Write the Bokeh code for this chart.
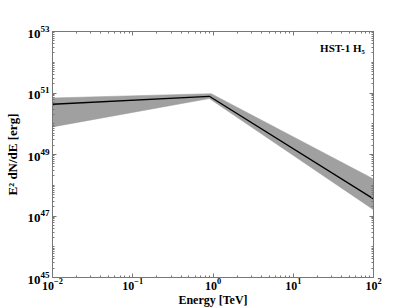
import numpy as np
from bokeh.plotting import figure
from bokeh.models import LogAxis, FixedTicker, Label, CustomJSTickFormatter
from bokeh.embed import file_html
from bokeh.resources import INLINE

# --- data ---
line_energy = [0.01, 0.9, 100.0]
line_flux = [4.3e50, 7.8e50, 3.6e47]
upper_energy = [0.01, 0.95, 100.0]
upper_flux = [6.9e50, 9.5e50, 1.6e48]
lower_energy = [0.01, 0.9, 100.0]
lower_flux = [7.9e49, 6.6e50, 1.6e47]
x_major = [1e-2, 1e-1, 1e0, 1e1, 1e2]
y_major = [1e45, 1e47, 1e49, 1e51, 1e53]
source_label = "HST-1 H\u2085"

FONT = "Liberation Serif"

x_minor = [m * 10.0 ** e for e in range(-2, 2) for m in range(1, 10)] + [1e2]
y_minor = [m * 10.0 ** e for e in range(45, 53) for m in range(1, 10)] + [1e53]

p = figure(x_axis_type="log", y_axis_type="log",
           x_range=(1e-2, 1e2), y_range=(1e45, 1e53),
           frame_width=321, frame_height=246,
           min_border_left=52, min_border_top=31, min_border_right=34, min_border_bottom=5,
           output_backend="svg", toolbar_location=None)
p.grid.visible = False
p.outline_line_color = "#777777"
p.outline_line_width = 1

band_x = upper_energy + lower_energy[::-1]
band_y = upper_flux + lower_flux[::-1]
p.patch(band_x, band_y, fill_color="#a0a0a0", line_color="#999999", line_width=0.5)
p.line(line_energy, line_flux, line_color="black", line_width=1.3)


def style(ax, ticks, minor, show_labels=True):
    ax.ticker = FixedTicker(ticks=ticks, minor_ticks=minor)
    ax.axis_line_color = "#777777"
    ax.major_tick_line_color = "#777777"
    ax.minor_tick_line_color = "#777777"
    ax.major_tick_in = 4
    ax.major_tick_out = 0
    ax.minor_tick_in = 2
    ax.minor_tick_out = 0
    ax.major_label_text_font = FONT
    ax.major_label_text_font_style = "bold"
    ax.major_label_text_font_size = "13px"
    ax.major_label_text_color = "black"
    ax.major_label_standoff = 3
    ax.axis_label_text_font = FONT
    ax.axis_label_text_font_style = "bold"
    ax.axis_label_text_font_size = "13px"
    ax.axis_label_text_color = "black"
    ax.axis_label_standoff = 2
    if not show_labels:
        ax.formatter = CustomJSTickFormatter(code="return '';")
        ax.major_label_standoff = 0


style(p.xaxis[0], x_major, x_minor)
style(p.yaxis[0], y_major, y_minor)
p.xaxis[0].axis_label = "Energy [TeV]"
p.xaxis[0].axis_label_standoff = 0
p.xaxis[0].major_label_standoff = 0
p.xaxis[0].major_label_text_font_size = "12px"
p.xaxis[0].axis_label_text_font_size = "12px"
p.yaxis[0].axis_label = "E\u00b2 dN/dE [erg]"
p.yaxis[0].axis_label_standoff = 4

top = LogAxis()
style(top, x_major, x_minor, show_labels=False)
p.add_layout(top, "above")
right = LogAxis()
style(right, y_major, y_minor, show_labels=False)
p.add_layout(right, "right")

p.add_layout(Label(x=78, y=2.8e52, text=source_label, text_font=FONT,
                   text_font_style="bold", text_font_size="11px",
                   text_align="right", text_baseline="middle", text_color="black"))

open("out.html", "w").write(file_html(p, INLINE))
